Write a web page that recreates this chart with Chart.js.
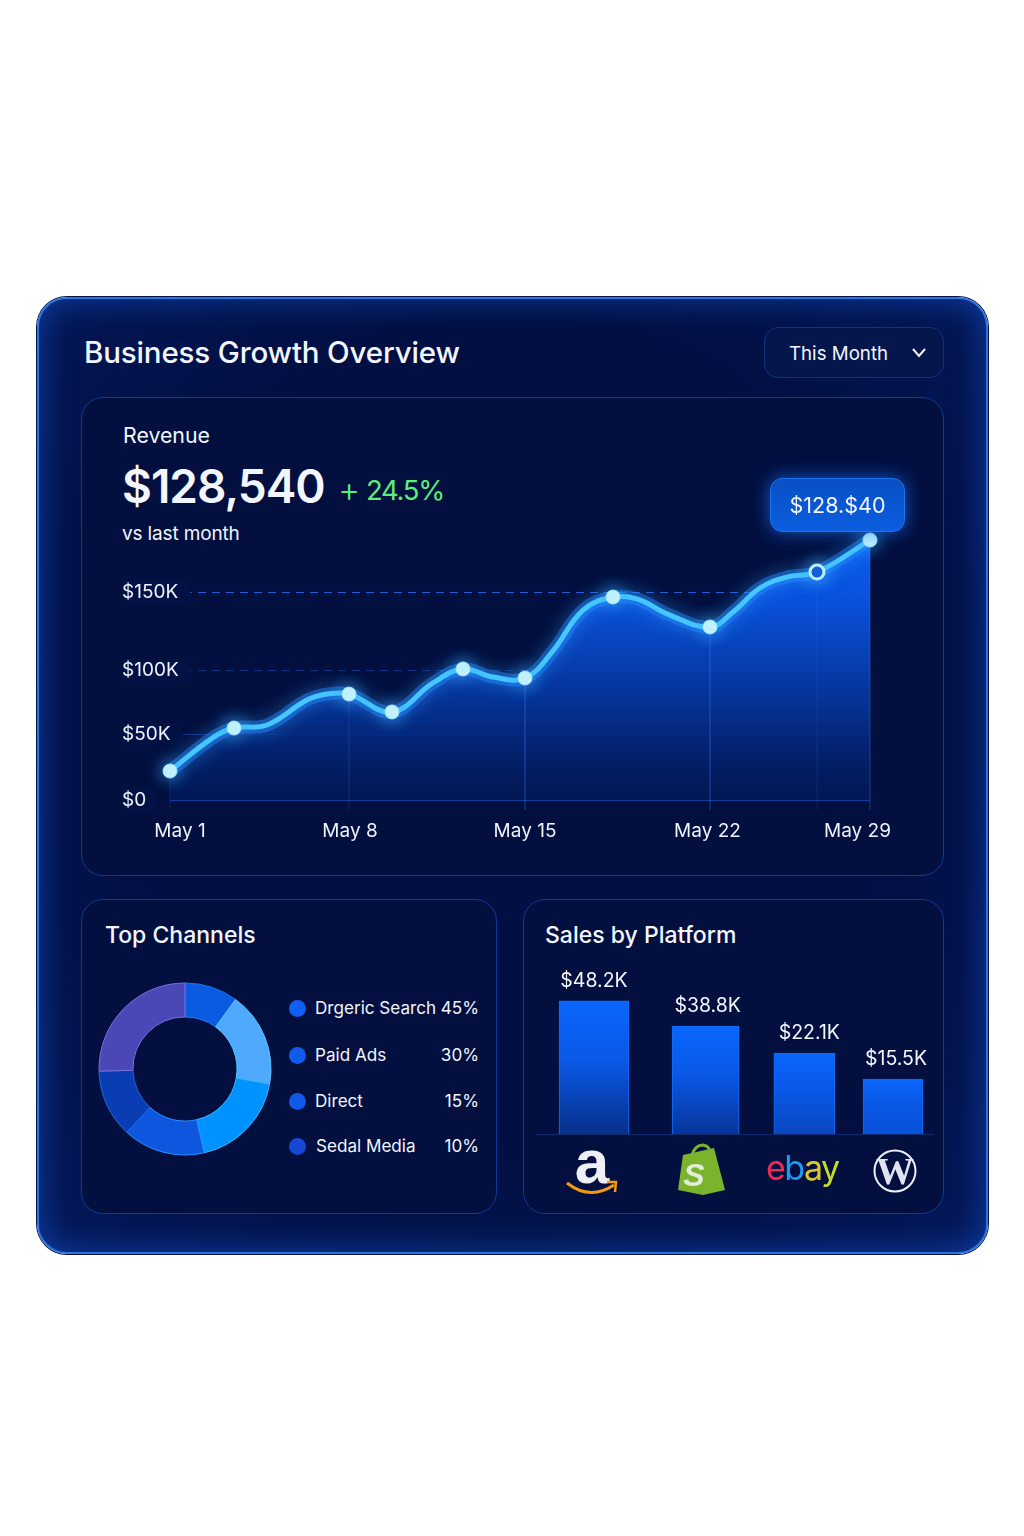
<!DOCTYPE html>
<html>
<head>
<meta charset="utf-8">
<title>Business Growth Overview</title>
<script src="https://cdn.jsdelivr.net/npm/chart.js@4"></script>
<style>
  html, body { margin: 0; background: #fff; }
  #page { position: relative; width: 1024px; height: 1536px; overflow: hidden; font-family: Inter, "Noto Sans", sans-serif; color: #f2f6ff; }
  #page > * { position: absolute; box-sizing: border-box; }
  .shell { left: 37px; top: 297px; width: 951px; height: 957px; border-radius: 30px; border: 2px solid #2c74e0;
    background: radial-gradient(ellipse at 50% 45%, #020f42 55%, #04185a 100%);
    box-shadow: inset 0 0 34px rgba(22, 96, 230, .55), 0 0 0 1px #04143f; }
  .card { border-radius: 22px; border: 1.5px solid #113a96; background: #020f3f; }
  .txt { white-space: nowrap; line-height: 1; }
  .select { left: 764px; top: 327px; width: 180px; height: 51px; border-radius: 14px; border: 1.5px solid #103280; background: #04164c; }
  .pill { left: 770px; top: 478px; width: 135px; height: 54px; border-radius: 12px; border: 1px solid #1c74f0;
    background: linear-gradient(#0a4fc4, #0b5ee0); box-shadow: 0 0 18px rgba(30, 120, 255, .7);
    font-size: 21.5px; text-align: center; line-height: 53px; }
  canvas { display: block; }
</style>
</head>
<body>
<div id="page">
  <div class="shell"></div>
  <div class="txt" style="left:84px;top:338px;font-size:29.5px;font-weight:500;letter-spacing:-.15px">Business Growth Overview</div>
  <div class="select"></div>
  <div class="txt" style="left:789px;top:345px;font-size:18.7px">This Month</div>
  <svg style="left:911px;top:347px" width="16" height="12"><path d="M2 2 L8 9 L14 2" fill="none" stroke="#f2f6ff" stroke-width="2"/></svg>

  <div class="card" style="left:81px;top:397px;width:863px;height:479px"></div>
  <div class="txt" style="left:123px;top:425px;font-size:21.3px">Revenue</div>
  <div class="txt" id="bigValue" style="left:122px;top:463px;font-size:46px;font-weight:600;letter-spacing:-1px"></div>
  <div class="txt" style="left:338px;top:473px;font-size:34px;font-weight:300;color:#5cee78">+</div>
  <div class="txt" id="bigChange" style="left:366px;top:477px;font-size:27.5px;letter-spacing:-1.3px;color:#5cee78"></div>
  <div class="txt" style="left:122px;top:524px;font-size:19px;letter-spacing:-.15px">vs last month</div>
  <div style="left:81px;top:397px;width:863px;height:479px"><canvas id="revenueChart"></canvas></div>
  <div class="pill" id="pill"></div>

  <div class="card" style="left:81px;top:899px;width:416px;height:315px"></div>
  <div class="txt" style="left:105px;top:923.5px;font-size:23px;font-weight:500">Top Channels</div>
  <div style="left:95px;top:978.5px;width:180px;height:180px"><canvas id="channelsChart"></canvas></div>
  <div id="legend" style="left:0;top:0"></div>

  <div class="card" style="left:523px;top:899px;width:421px;height:315px"></div>
  <div class="txt" style="left:545px;top:923.5px;font-size:23px;font-weight:500">Sales by Platform</div>
  <div style="left:523px;top:960px;width:421px;height:182px"><canvas id="platformChart"></canvas></div>

  <svg style="left:523px;top:1140px" width="421" height="65" viewBox="523 1140 421 65">
    <!-- amazon -->
    <text x="592" y="1183" text-anchor="middle" font-family="Liberation Sans" font-weight="700" font-size="62" fill="#eef0f6">a</text>
    <path d="M567 1183 Q590 1201 614 1185" fill="none" stroke="#f39a12" stroke-width="3"/>
    <path d="M607 1182 L616 1182 L615 1192" fill="none" stroke="#f39a12" stroke-width="2.5"/>
    <!-- shopify -->
    <path d="M683 1155 L714 1148 L725 1190 L703 1195 L678 1190 Z" fill="#7ab32c"/>
    <path d="M692 1155 Q695 1145 703 1145 Q710 1146 710 1153" fill="none" stroke="#7ab32c" stroke-width="3"/>
    <text x="694" y="1186" text-anchor="middle" font-family="Liberation Sans" font-weight="700" font-style="italic" font-size="32" fill="#e4ecd8">S</text>
    <!-- ebay -->
    <text x="766" y="1180" font-family="Inter" font-size="34" letter-spacing="-1.5"><tspan fill="#ee2a55">e</tspan><tspan fill="#1c9cf0">b</tspan><tspan fill="#dcc52e">a</tspan><tspan fill="#c6dc1e">y</tspan></text>
    <!-- wordpress -->
    <circle cx="895" cy="1171" r="20.5" fill="none" stroke="#eef0f8" stroke-width="2"/>
    <text x="895" y="1184" text-anchor="middle" font-family="Liberation Serif" font-weight="700" font-size="38" fill="#dfe3f2">W</text>
  </svg>
</div>

<script>
const headlineValue = "$128,540";
const headlineChange = "24.5%";
const pillText = "$128.$40";

// revenue curve ($K against the drawn axis)
const revenueDays = [1, 2.72, 3.56, 4.88, 6.48, 7.28, 8.16, 9.88, 11.52, 12.72, 13.92, 15.2, 16.28, 17.52, 18.72, 19.68, 21, 22.6, 23.52, 24.6, 25.68, 26.88, 29];
const revenueValues = [20.9, 45, 51.9, 54.1, 72.1, 76.4, 76.4, 63.5, 84.4, 94.5, 88.7, 88, 106.7, 137, 146.4, 145, 133.4, 124.8, 135.6, 152.9, 160.8, 164.4, 187.5];
const markerIndexes = [0, 2, 6, 7, 9, 11, 14, 17, 22];
const hollowIndex = 21;
const dropLineAlpha = { 0: .2, 6: .25, 11: .5, 17: .5, 21: .18, 22: .4 };

const xTickValues = [1.4, 8.2, 15.2, 22.5, 28.5];
const xTickLabels = ["May 1", "May 8", "May 15", "May 22", "May 29"];
const yTickValues = [0, 47.5, 93.7, 150];
const yTickLabels = ["$0", "$50K", "$100K", "$150K"];

const sliceValues = [10, 17.8, 18.6, 15.4, 12.8, 25.4];
const sliceColors = ["#0a5ae2", "#4fa9ff", "#0092ff", "#0f56de", "#0a3cb4", "#4a47b6"];
const sliceBorders = ["#1a78f0", "#58c8ff", "#36b8ff", "#2a90ff", "#1a6ae0", "#7a70e0"];

const channelNames = ["Drgeric Search", "Paid Ads", "Direct", "Sedal Media"];
const channelShares = ["45%", "30%", "15%", "10%"];
const channelDotColors = ["#0f60f0", "#0f5cec", "#0f5ae8", "#1648d4"];

const platforms = ["Amazon", "Shopify", "eBay", "WordPress"];
const platformBarValues = [48.2, 39, 29.3, 19.9];
const platformLabels = ["$48.2K", "$38.8K", "$22.1K", "$15.5K"];
const platformSlots = [0, 1.12, 2.11, 3];
const platformBarWidths = [70, 67, 61, 60];
const platformLabelShift = [0, 2, 5, 3];
const platformBarBottoms = ["#07308a", "#08359a", "#0a45c0", "#0a50d8"];

Chart.defaults.font.family = "Inter, 'Noto Sans', sans-serif";
Chart.defaults.animation = false;

document.getElementById("bigValue").textContent = headlineValue;
document.getElementById("bigChange").textContent = headlineChange;
document.getElementById("pill").textContent = pillText;

document.getElementById("legend").innerHTML = channelNames.map(function (name, i) {
  const top = [1008, 1055, 1101, 1146][i];
  return '<div style="position:absolute;left:288.5px;top:' + (top - 8.5) + 'px;width:17px;height:17px;border-radius:50%;background:' + channelDotColors[i] + '"></div>' +
    '<div class="txt" style="position:absolute;left:' + (i === 3 ? 316 : 315) + 'px;top:' + (top - 9) + 'px;font-size:17.1px">' + name + '</div>' +
    '<div class="txt" style="position:absolute;right:-479px;top:' + (top - 9) + 'px;font-size:17.1px">' + channelShares[i] + '</div>';
}).join("");

const points = revenueDays.map(function (day, i) {
  return { x: day, y: revenueValues[i] };
});

const dropLines = {
  id: "dropLines",
  afterDatasetDraw(chart, args) {
    if (args.index !== 0) return;
    const ctx = chart.ctx;
    const bottom = chart.scales.y.bottom + 10;
    ctx.save();
    ctx.lineWidth = 1;
    Object.keys(dropLineAlpha).forEach(function (key) {
      const el = args.meta.data[key];
      ctx.strokeStyle = "rgba(50, 130, 255, " + dropLineAlpha[key] + ")";
      ctx.beginPath();
      ctx.moveTo(el.x, el.y);
      ctx.lineTo(el.x, bottom);
      ctx.stroke();
    });
    ctx.restore();
  }
};

const lineGlow = {
  id: "lineGlow",
  beforeDatasetDraw(chart, args) {
    if (args.index !== 1) return;
    chart.ctx.save();
    chart.ctx.shadowColor = "rgba(60, 170, 255, 1)";
    chart.ctx.shadowBlur = 18;
  },
  afterDatasetDraw(chart, args) {
    if (args.index === 1) chart.ctx.restore();
  }
};

function isMarker(ctx) {
  return markerIndexes.includes(ctx.dataIndex) || ctx.dataIndex === hollowIndex;
}

new Chart(document.getElementById("revenueChart"), {
  type: "line",
  data: {
    datasets: [{
      data: points,
      order: 3,
      clip: false,
      fill: "origin",
      tension: .4,
      borderWidth: 0,
      pointRadius: 0,
      backgroundColor: function (context) {
        const area = context.chart.chartArea;
        if (!area) return "#0a50d0";
        const g = context.chart.ctx.createLinearGradient(0, area.top, 0, area.bottom);
        g.addColorStop(0, "rgba(10, 100, 250, .97)");
        g.addColorStop(.3, "rgba(10, 84, 225, .95)");
        g.addColorStop(.64, "rgba(7, 56, 162, .88)");
        g.addColorStop(1, "rgba(3, 28, 96, .6)");
        return g;
      }
    }, {
      data: points,
      order: 1,
      clip: false,
      fill: false,
      tension: .4,
      borderColor: "#46c6ff",
      borderWidth: 5,
      pointRadius: function (ctx) { return isMarker(ctx) ? 7 : 0; },
      pointBackgroundColor: function (ctx) { return ctx.dataIndex === hollowIndex ? "#0a4fd0" : "#c8f5ff"; },
      pointBorderColor: function (ctx) { return ctx.dataIndex === hollowIndex ? "#b8eeff" : "#9ae6ff"; },
      pointBorderWidth: function (ctx) { return ctx.dataIndex === hollowIndex ? 3 : 1; }
    }, {
      data: points,
      order: 2,
      clip: false,
      fill: false,
      tension: .4,
      borderColor: "rgba(30, 130, 255, .45)",
      borderWidth: 13,
      pointRadius: 0
    }]
  },
  options: {
    responsive: true,
    maintainAspectRatio: false,
    layout: { padding: { left: 41, right: 74, top: 125.7, bottom: 0 } },
    plugins: { legend: { display: false }, tooltip: { enabled: false } },
    scales: {
      x: {
        type: "linear",
        min: 1,
        max: 29,
        afterBuildTicks: function (scale) {
          scale.ticks = xTickValues.map(function (v) { return { value: v }; });
        },
        afterFit: function (scale) { scale.height = 76; },
        grid: { display: false },
        border: { display: false },
        ticks: {
          autoSkip: false,
          maxRotation: 0,
          padding: 12,
          color: "#eef3ff",
          font: { size: 19 },
          callback: function (value, i) { return xTickLabels[i]; }
        }
      },
      y: {
        min: 0,
        max: 200,
        afterBuildTicks: function (scale) {
          scale.ticks = yTickValues.map(function (v) { return { value: v }; });
        },
        afterFit: function (scale) { scale.width = 48; },
        grid: {
          drawTicks: false,
          lineWidth: 1,
          color: function (ctx) {
            return ["#0d3a9c", "rgba(40, 110, 235, .38)", "rgba(40, 110, 235, .38)", "rgba(36, 108, 235, .85)"][ctx.index];
          }
        },
        border: {
          display: false,
          dash: function (ctx) { return ctx.index >= 2 ? [8, 6] : []; }
        },
        ticks: {
          // mirrored so the long labels are not clipped at the axis edge
          mirror: true,
          padding: -48,
          color: "#eef3ff",
          font: { size: 19 },
          showLabelBackdrop: true,
          backdropColor: "#031145",
          backdropPadding: { left: 0, right: 12, top: 0, bottom: 0 },
          callback: function (value, i) { return yTickLabels[i]; }
        }
      }
    }
  },
  plugins: [dropLines, lineGlow]
});

new Chart(document.getElementById("channelsChart"), {
  type: "doughnut",
  data: {
    labels: sliceValues.map(function (v, i) { return "Slice " + (i + 1); }),
    datasets: [{
      data: sliceValues,
      backgroundColor: sliceColors,
      borderColor: sliceBorders,
      borderWidth: 1
    }]
  },
  options: {
    responsive: true,
    maintainAspectRatio: false,
    radius: 86,
    cutout: "60.5%",
    plugins: { legend: { display: false }, tooltip: { enabled: false } }
  }
});

const barLabels = {
  id: "barLabels",
  afterDatasetsDraw(chart) {
    const ctx = chart.ctx;
    ctx.save();
    ctx.fillStyle = "#f2f6ff";
    ctx.font = "19.5px Inter";
    ctx.textAlign = "center";
    ctx.textBaseline = "middle";
    platformLabels.forEach(function (text, i) {
      const bar = chart.getDatasetMeta(i).data[0];
      ctx.fillText(text, bar.x + platformLabelShift[i], bar.y - 20);
    });
    ctx.restore();
  }
};

new Chart(document.getElementById("platformChart"), {
  type: "bar",
  data: {
    datasets: platforms.map(function (name, i) {
      return {
        label: name,
        data: [{ x: platformSlots[i], y: platformBarValues[i] }],
        grouped: false,
        barThickness: platformBarWidths[i],
        borderColor: "#0f6cf5",
        borderWidth: 1,
        backgroundColor: function (context) {
          const el = context.chart.getDatasetMeta(i).data[0];
          const area = context.chart.chartArea;
          if (!area || !el) return "#0b5ef0";
          const top = context.chart.scales.y.getPixelForValue(platformBarValues[i]);
          const g = context.chart.ctx.createLinearGradient(0, top, 0, area.bottom);
          g.addColorStop(0, "#0a66fc");
          g.addColorStop(.45, "#0a58e6");
          g.addColorStop(1, platformBarBottoms[i]);
          return g;
        }
      };
    })
  },
  options: {
    responsive: true,
    maintainAspectRatio: false,
    layout: { padding: { left: 13, right: 11, top: 0, bottom: 0 } },
    plugins: { legend: { display: false }, tooltip: { enabled: false } },
    scales: {
      x: {
        type: "linear",
        offset: false,
        min: -.582,
        max: 3.401,
        grid: { display: false },
        border: { color: "#0d2a6e", width: 1 },
        ticks: { display: false }
      },
      y: {
        min: 0,
        max: 63,
        display: false
      }
    }
  },
  plugins: [barLabels]
});
</script>
</body>
</html>
